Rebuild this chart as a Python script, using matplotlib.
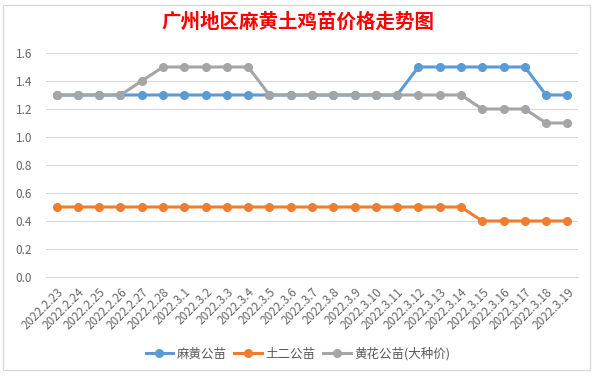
import matplotlib.pyplot as plt
from matplotlib.patches import Rectangle

plt.rcParams['font.family'] = ['Noto Sans CJK SC', 'DejaVu Sans']

# dates and prices
dates = ["2022.2.23", "2022.2.24", "2022.2.25", "2022.2.26", "2022.2.27", "2022.2.28",
         "2022.3.1", "2022.3.2", "2022.3.3", "2022.3.4", "2022.3.5", "2022.3.6",
         "2022.3.7", "2022.3.8", "2022.3.9", "2022.3.10", "2022.3.11", "2022.3.12",
         "2022.3.13", "2022.3.14", "2022.3.15", "2022.3.16", "2022.3.17", "2022.3.18",
         "2022.3.19"]
mahuang = [1.3, 1.3, 1.3, 1.3, 1.3, 1.3, 1.3, 1.3, 1.3, 1.3, 1.3, 1.3, 1.3, 1.3,
           1.3, 1.3, 1.3, 1.5, 1.5, 1.5, 1.5, 1.5, 1.5, 1.3, 1.3]
tuer = [0.5, 0.5, 0.5, 0.5, 0.5, 0.5, 0.5, 0.5, 0.5, 0.5, 0.5, 0.5, 0.5, 0.5,
        0.5, 0.5, 0.5, 0.5, 0.5, 0.5, 0.4, 0.4, 0.4, 0.4, 0.4]
huanghua = [1.3, 1.3, 1.3, 1.3, 1.4, 1.5, 1.5, 1.5, 1.5, 1.5, 1.3, 1.3, 1.3, 1.3,
            1.3, 1.3, 1.3, 1.3, 1.3, 1.3, 1.2, 1.2, 1.2, 1.1, 1.1]
names = ["麻黄公苗", "土二公苗", "黄花公苗(大种价)"]
colors = ["#5B9BD5", "#ED7D31", "#A5A5A5"]

fig = plt.figure(figsize=(5.96, 3.78), dpi=100)
ax = fig.add_axes([46 / 596, 1 - 277 / 378, 532 / 596, 224 / 378])

x = range(len(dates))
for vals, name, c in zip([mahuang, tuer, huanghua], names, colors):
    ax.plot(x, vals, color=c, lw=2.2, marker='o', ms=5.5, label=name)

ax.set_xlim(-0.5, len(dates) - 0.5)
ax.set_ylim(0, 1.6)
ax.set_yticks([0, 0.2, 0.4, 0.6, 0.8, 1.0, 1.2, 1.4, 1.6])
ax.set_yticklabels(["%.1f" % v for v in ax.get_yticks()])
ax.set_xticks(list(x))
ax.set_xticklabels(dates, rotation=45, ha='right', rotation_mode='anchor')
ax.grid(axis='y', color='#D9D9D9', lw=0.8)
ax.set_axisbelow(True)
for s in ['top', 'right', 'left']:
    ax.spines[s].set_visible(False)
ax.spines['bottom'].set_color('#D9D9D9')
ax.tick_params(length=0, colors='#666666', labelsize=8.5)
ax.tick_params(axis='x', pad=6)
ax.tick_params(axis='y', pad=10)

fig.text(0.5, 1 - 22 / 378, "广州地区麻黄土鸡苗价格走势图", color='red',
         fontsize=14, fontweight='bold', ha='center', va='center')

fig.legend(loc='center', bbox_to_anchor=(0.5, 1 - 354 / 378), ncol=3, frameon=False,
           fontsize=9, handlelength=2.2, columnspacing=0.6, handletextpad=0.3,
           labelcolor='#595959')

fig.patches.append(Rectangle((3 / 596, 8 / 378), 587 / 596, 365 / 378,
                             transform=fig.transFigure, fill=False,
                             edgecolor='#D9D9D9', lw=1))

fig.savefig("out.png", dpi=100)
